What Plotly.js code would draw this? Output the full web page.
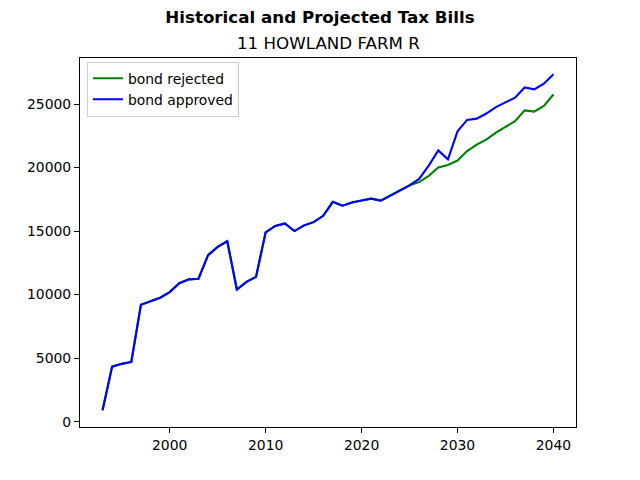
<!DOCTYPE html>
<html>
<head>
<meta charset="utf-8">
<script src="https://cdn.plot.ly/plotly-3.0.1.min.js"></script>
<style>
  html, body { margin: 0; padding: 0; background: #fff; }
  #chart { width: 640px; height: 480px; }
</style>
</head>
<body>
<div id="chart"></div>
<script>
// Years on the x axis
const years = [];
for (let y = 1993; y <= 2040; y++) years.push(y);

// Historical bills up to 2025 (shared by both scenarios)
const history = [
    900, 4330, 4550, 4700, 9200, 9500, 9750, 10200, 10900, 11200,
    11250, 13100, 13750, 14200, 10400, 11000, 11400, 14900, 15400, 15600,
    15000, 15450, 15700, 16200, 17300, 17000, 17250, 17400, 17550, 17400,
    17800, 18200, 18600
];

// Projections 2026-2040
const rejectedProj = [
    18850, 19350, 20000, 20200, 20550, 21300, 21800, 22200, 22750, 23200,
    23650, 24500, 24400, 24850, 25750
];
const approvedProj = [
    19100, 20150, 21350, 20650, 22850, 23750, 23850, 24250, 24750, 25150,
    25500, 26300, 26150, 26600, 27350
];

const rejected = history.concat(rejectedProj);
const approved = history.concat(approvedProj);

const Theme = {
    green: '#008000',
    blue: '#0000ff',
    text: '#000000',
    font: 'DejaVu Sans, sans-serif'
};

const traces = [
    {
        x: years, y: rejected, name: 'bond rejected',
        type: 'scatter', mode: 'lines',
        line: { color: Theme.green, width: 2.1 }
    },
    {
        x: years, y: approved, name: 'bond approved',
        type: 'scatter', mode: 'lines',
        line: { color: Theme.blue, width: 2.1 }
    }
];

const axisCommon = {
    showgrid: false,
    zeroline: false,
    showline: true,
    mirror: true,
    linecolor: '#000',
    linewidth: 1.1,
    ticks: 'outside',
    ticklen: 5,
    tickwidth: 1.1,
    tickcolor: '#000',
    tickfont: { family: Theme.font, size: 13.9, color: Theme.text }
};

const layout = {
    width: 640,
    height: 480,
    font: { family: Theme.font, size: 13.9, color: Theme.text },
    paper_bgcolor: '#fff',
    plot_bgcolor: '#fff',
    margin: { l: 80, r: 64, t: 58, b: 53, pad: 0 },
    title: {
        text: '<b>Historical and Projected Tax Bills</b>',
        font: { family: Theme.font, size: 16.7, color: Theme.text },
        x: 0.5, xanchor: 'center',
        y: 0.964, yanchor: 'middle', yref: 'container'
    },
    annotations: [{
        text: '11 HOWLAND FARM R',
        xref: 'paper', yref: 'paper',
        x: 0.5, y: 1.0, xanchor: 'center', yanchor: 'bottom',
        yshift: 3,
        showarrow: false,
        font: { family: Theme.font, size: 16.7, color: Theme.text }
    }],
    xaxis: {
        ...axisCommon,
        range: [1990.65, 2042.35],
        tickvals: [2000, 2010, 2020, 2030, 2040]
    },
    yaxis: {
        ...axisCommon,
        range: [-420, 28620],
        tickvals: [0, 5000, 10000, 15000, 20000, 25000],
        ticktext: ['0', '5000', '10000', '15000', '20000', '25000']
    },
    showlegend: true,
    legend: {
        x: 0.014, y: 0.99, xanchor: 'left', yanchor: 'top',
        bgcolor: 'rgba(255,255,255,0.8)',
        bordercolor: '#cccccc',
        borderwidth: 1,
        font: { family: Theme.font, size: 13.9, color: Theme.text },
        tracegroupgap: 0
    }
};

Plotly.newPlot('chart', traces, layout, { displayModeBar: false, responsive: false });
</script>
</body>
</html>
